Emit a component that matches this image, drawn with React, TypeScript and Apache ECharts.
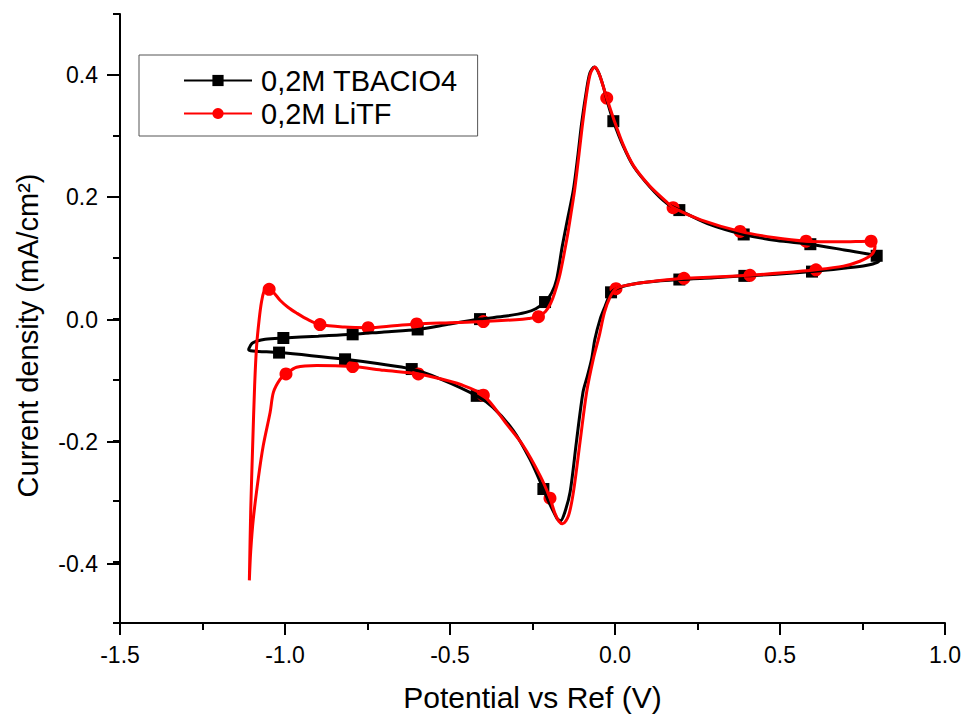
import React, { useEffect, useRef } from "react";
import * as echarts from "echarts";

// Cyclic voltammograms: [potential (V), current density (mA/cm²)] in scan order
const tbaCurve: number[][] = [
  [-1.109, -0.049], [-1.1, -0.041], [-1.085, -0.037], [-1.06, -0.034], [-1.005, -0.032],
  [-0.9, -0.029], [-0.795, -0.026], [-0.7, -0.022], [-0.598, -0.018], [-0.5, -0.009],
  [-0.409, -0.001], [-0.33, 0.004], [-0.27, 0.01], [-0.24, 0.016], [-0.212, 0.027],
  [-0.192, 0.042], [-0.177, 0.064], [-0.16, 0.118], [-0.145, 0.16], [-0.126, 0.212],
  [-0.112, 0.27], [-0.101, 0.321], [-0.086, 0.376], [-0.076, 0.403], [-0.063, 0.413],
  [-0.05, 0.404], [-0.035, 0.38], [-0.02, 0.35], [-0.005, 0.324], [0.025, 0.283],
  [0.056, 0.25], [0.106, 0.216], [0.157, 0.189], [0.195, 0.178], [0.28, 0.156],
  [0.39, 0.138], [0.49, 0.128], [0.592, 0.122], [0.7, 0.112], [0.793, 0.103],
  [0.803, 0.098], [0.795, 0.092], [0.76, 0.087], [0.7, 0.083], [0.597, 0.077],
  [0.5, 0.073], [0.392, 0.07], [0.3, 0.067], [0.195, 0.064], [0.1, 0.06],
  [0.04, 0.055], [0.005, 0.049], [-0.012, 0.043], [-0.03, 0.02], [-0.045, -0.001],
  [-0.061, -0.034], [-0.071, -0.067], [-0.084, -0.095], [-0.097, -0.121], [-0.117, -0.203],
  [-0.136, -0.285], [-0.152, -0.318], [-0.165, -0.332], [-0.175, -0.329], [-0.182, -0.322],
  [-0.2, -0.302], [-0.217, -0.28], [-0.258, -0.231], [-0.308, -0.184], [-0.37, -0.146],
  [-0.419, -0.127], [-0.53, -0.099], [-0.616, -0.083], [-0.72, -0.074], [-0.818, -0.067],
  [-0.92, -0.061], [-1.018, -0.056], [-1.08, -0.054], [-1.104, -0.053], [-1.11, -0.051],
  [-1.109, -0.049],
];

const litfCurve: number[][] = [
  [-1.108, -0.43], [-1.104, -0.318], [-1.098, -0.209], [-1.092, -0.11], [-1.086, -0.045],
  [-1.078, 0.0], [-1.071, 0.028], [-1.063, 0.046], [-1.055, 0.052], [-1.046, 0.049],
  [-1.03, 0.04], [-1.015, 0.03], [-0.99, 0.018], [-0.965, 0.009], [-0.93, -0.002],
  [-0.894, -0.01], [-0.82, -0.014], [-0.748, -0.015], [-0.67, -0.012], [-0.601, -0.009],
  [-0.5, -0.007], [-0.399, -0.005], [-0.3, -0.002], [-0.262, 0.0], [-0.232, 0.003],
  [-0.21, 0.012], [-0.195, 0.025], [-0.183, 0.042], [-0.167, 0.072], [-0.146, 0.13],
  [-0.134, 0.17], [-0.122, 0.212], [-0.109, 0.27], [-0.098, 0.321], [-0.084, 0.376],
  [-0.074, 0.403], [-0.061, 0.413], [-0.047, 0.4], [-0.025, 0.362], [-0.003, 0.326],
  [0.025, 0.285], [0.056, 0.251], [0.106, 0.217], [0.157, 0.191], [0.176, 0.182],
  [0.26, 0.162], [0.379, 0.143], [0.48, 0.133], [0.579, 0.127], [0.68, 0.126],
  [0.776, 0.127], [0.788, 0.119], [0.778, 0.105], [0.742, 0.094], [0.692, 0.086],
  [0.609, 0.08], [0.509, 0.075], [0.409, 0.071], [0.3, 0.068], [0.209, 0.066],
  [0.1, 0.06], [0.03, 0.054], [0.003, 0.049], [-0.015, 0.035], [-0.032, 0.01],
  [-0.048, -0.029], [-0.066, -0.067], [-0.086, -0.121], [-0.106, -0.203], [-0.126, -0.285],
  [-0.141, -0.324], [-0.159, -0.337], [-0.17, -0.333], [-0.182, -0.32], [-0.197, -0.295],
  [-0.227, -0.258], [-0.278, -0.209], [-0.329, -0.173], [-0.399, -0.126], [-0.47, -0.108],
  [-0.53, -0.099], [-0.596, -0.091], [-0.7, -0.085], [-0.795, -0.079], [-0.904, -0.077],
  [-0.965, -0.08], [-0.997, -0.091], [-1.015, -0.1], [-1.035, -0.121], [-1.045, -0.154],
  [-1.066, -0.209], [-1.081, -0.263], [-1.096, -0.329], [-1.104, -0.383], [-1.108, -0.43],
];

const tbaMarkers: number[][] = [
  [-1.005, -0.032], [-1.018, -0.056], [-0.795, -0.026], [-0.818, -0.067], [-0.598, -0.018],
  [-0.616, -0.083], [-0.409, -0.001], [-0.419, -0.127], [-0.212, 0.027], [-0.217, -0.28],
  [-0.005, 0.324], [-0.012, 0.043], [0.195, 0.178], [0.195, 0.064], [0.39, 0.138],
  [0.392, 0.07], [0.592, 0.122], [0.597, 0.077], [0.793, 0.103],
];

const litfMarkers: number[][] = [
  [-1.048, 0.048], [-0.997, -0.091], [-0.894, -0.01], [-0.795, -0.079], [-0.748, -0.015],
  [-0.596, -0.091], [-0.601, -0.009], [-0.399, -0.005], [-0.399, -0.126], [-0.232, 0.003],
  [-0.197, -0.295], [-0.025, 0.362], [0.003, 0.049], [0.176, 0.182], [0.209, 0.066],
  [0.379, 0.143], [0.409, 0.071], [0.579, 0.127], [0.609, 0.08], [0.776, 0.127],
];

const seriesNames = ["0,2M TBACIO4", "0,2M LiTF"];
const xTitle = "Potential vs Ref (V)";
const yTitle = "Current density (mA/cm²)";

const FONT = "'Liberation Sans', Arial, Helvetica, sans-serif";

export default function App() {
  const ref = useRef<HTMLDivElement>(null);

  useEffect(() => {
    if (!ref.current) return;
    const chart = echarts.init(ref.current, null, { renderer: "svg" });
    const axisLineStyle = { color: "#000", width: 2 };
    const fmt = (v: number) => (Math.abs(v) < 1e-9 ? "0.0" : v.toFixed(1));

    chart.setOption({
      animation: false,
      backgroundColor: "#ffffff",
      textStyle: { fontFamily: FONT },
      grid: [
        { left: 120, right: 19, top: 14, bottom: 92 },
        { left: 120, right: 19, top: 75, bottom: 153 },
      ],
      legend: {
        orient: "vertical",
        left: 139,
        top: 55,
        padding: [11, 20, 8, 44],
        itemGap: 4,
        itemWidth: 68,
        itemHeight: 14,
        borderColor: "#555",
        borderWidth: 1,
        borderRadius: 0,
        backgroundColor: "#fff",
        data: seriesNames,
        textStyle: { fontSize: 29, color: "#000", fontFamily: FONT, padding: [0, 0, 0, 4] },
      },
      xAxis: [
        {
          gridIndex: 0,
          type: "value",
          min: -1.5,
          max: 1.0,
          interval: 0.5,
          axisLine: { show: true, onZero: false, lineStyle: axisLineStyle },
          axisTick: { show: true, length: 12, lineStyle: axisLineStyle },
          minorTick: { show: true, splitNumber: 2, length: 7, lineStyle: axisLineStyle },
          splitLine: { show: false },
          minorSplitLine: { show: false },
          axisLabel: { formatter: fmt, fontSize: 23, color: "#000", margin: 20, fontFamily: FONT },
          name: xTitle,
          nameLocation: "middle",
          nameGap: 59,
          nameTextStyle: { fontSize: 30, color: "#000", fontFamily: FONT },
        },
        { gridIndex: 1, type: "value", min: -1.5, max: 1.0, show: false },
      ],
      yAxis: [
        {
          gridIndex: 0,
          type: "value",
          min: -0.5,
          max: 0.5,
          interval: 0.1,
          axisLine: { show: true, onZero: false, lineStyle: axisLineStyle },
          axisTick: { show: true, length: 7, lineStyle: axisLineStyle },
          axisLabel: { show: false },
          splitLine: { show: false },
          name: yTitle,
          nameLocation: "middle",
          nameGap: 78,
          nameTextStyle: { fontSize: 29, color: "#000", fontFamily: FONT, padding: [0, 34, 0, 0] },
        },
        {
          gridIndex: 1,
          type: "value",
          min: -0.4,
          max: 0.4,
          interval: 0.2,
          axisLine: { show: false, onZero: false },
          axisTick: { show: true, length: 13, lineStyle: axisLineStyle },
          axisLabel: { formatter: fmt, fontSize: 23, color: "#000", margin: 22, fontFamily: FONT },
          splitLine: { show: false },
        },
      ],
      series: [
        {
          name: seriesNames[0],
          type: "line",
          data: tbaCurve,
          smooth: 0.3,
          symbol: "rect",
          showSymbol: false,
          color: "#000000",
          lineStyle: { color: "#000000", width: 3 },
          itemStyle: { color: "#000000" },
          silent: true,
        },
        {
          name: "tba-markers",
          type: "scatter",
          data: tbaMarkers,
          symbol: "rect",
          symbolSize: 12,
          itemStyle: { color: "#000000", opacity: 1 },
          silent: true,
        },
        {
          name: seriesNames[1],
          type: "line",
          data: litfCurve,
          smooth: 0.3,
          symbol: "circle",
          showSymbol: false,
          color: "#ff0000",
          lineStyle: { color: "#ff0000", width: 3 },
          itemStyle: { color: "#ff0000" },
          silent: true,
        },
        {
          name: "litf-markers",
          type: "scatter",
          data: litfMarkers,
          symbol: "circle",
          symbolSize: 13,
          itemStyle: { color: "#ff0000", opacity: 1 },
          silent: true,
        },
      ],
    });
    return () => chart.dispose();
  }, []);

  return (
    <div
      ref={ref}
      style={{ position: "fixed", left: 0, top: 0, width: 964, height: 717, background: "#fff" }}
    />
  );
}
